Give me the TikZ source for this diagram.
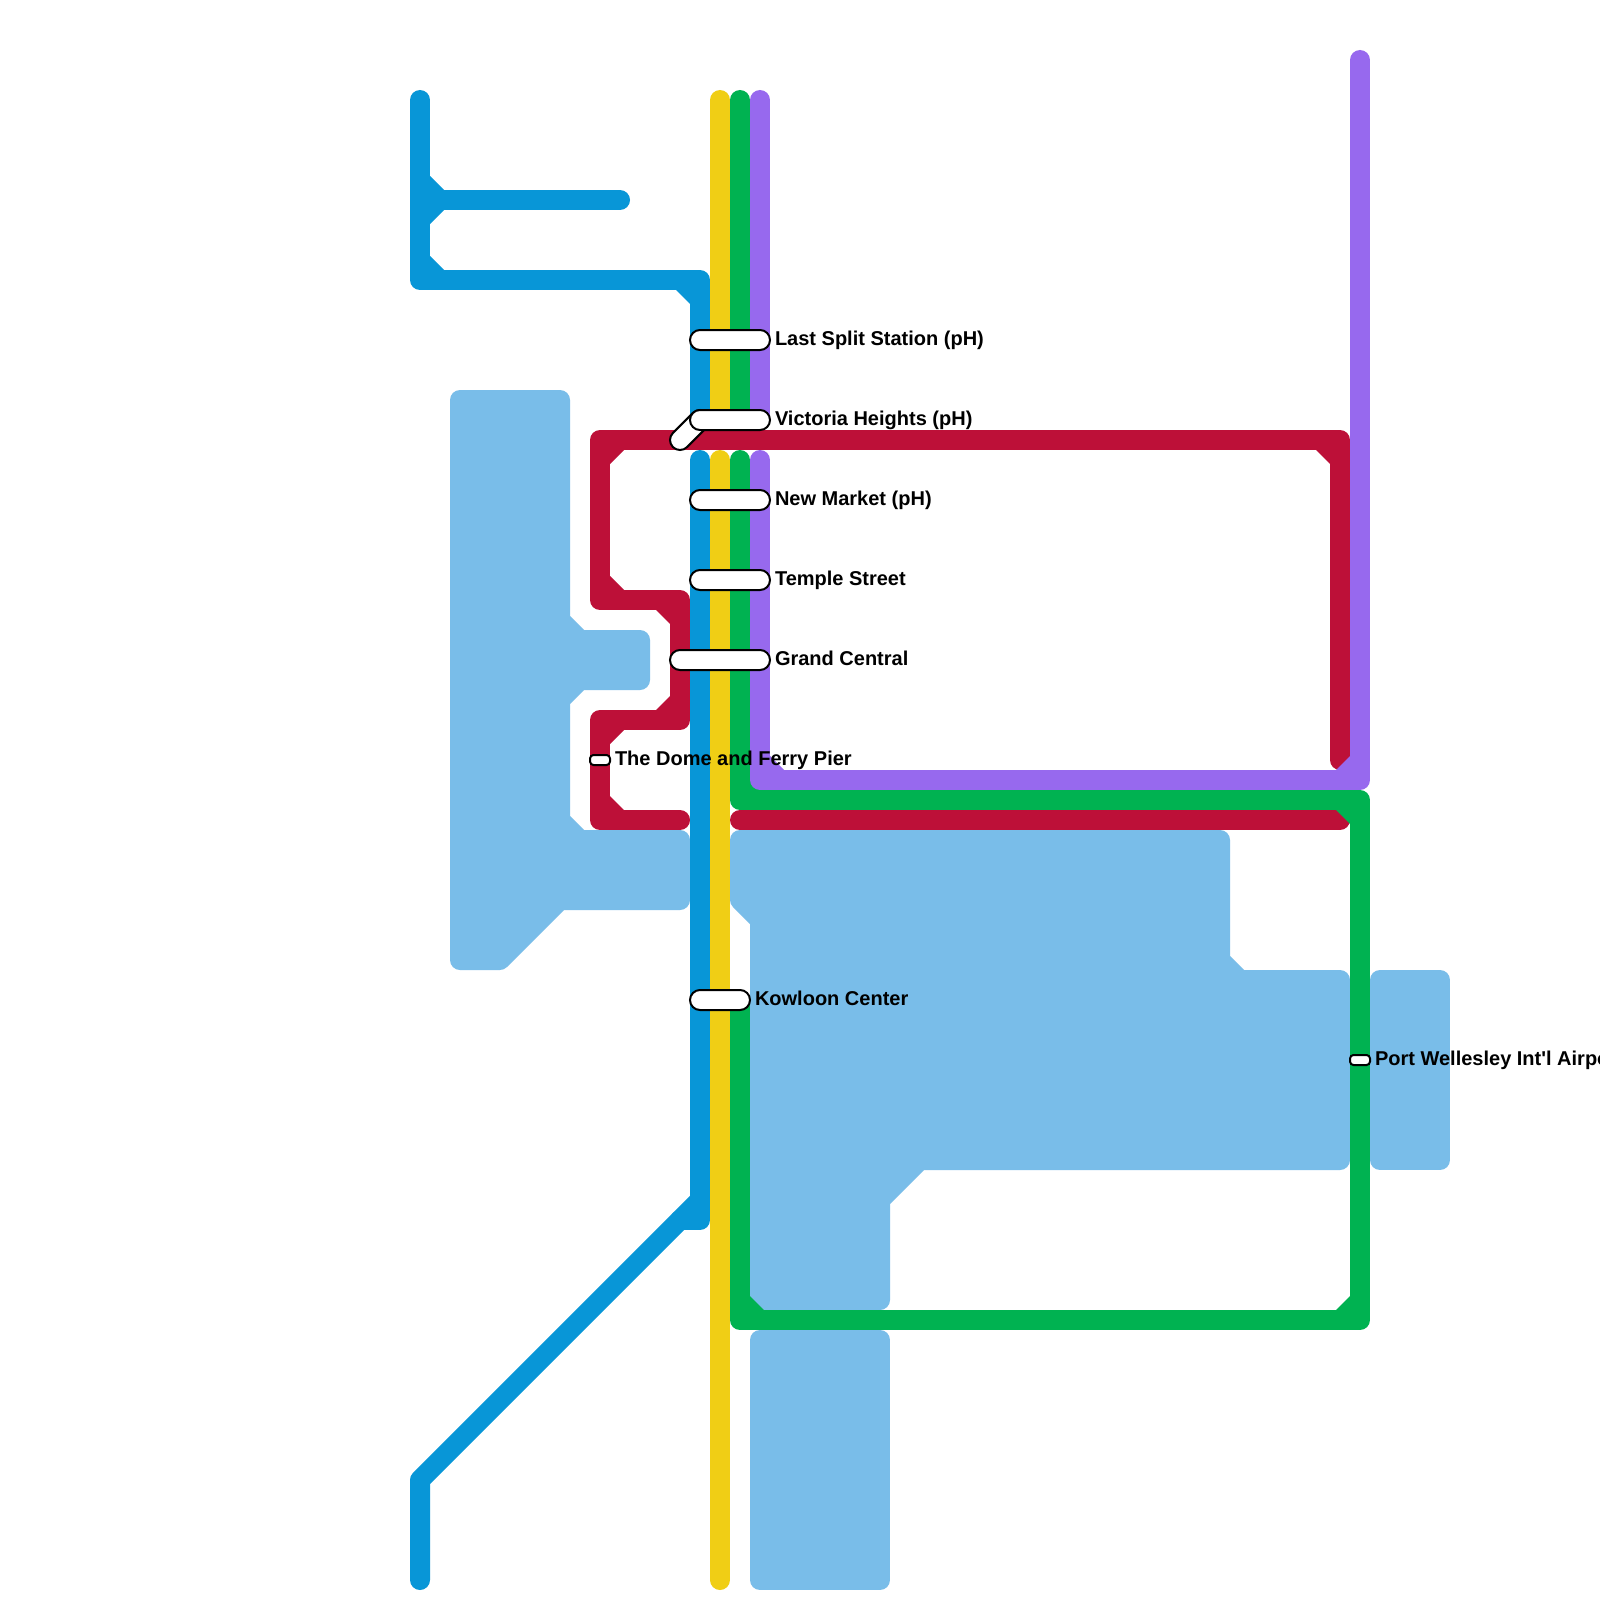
\documentclass[tikz,border=0pt]{standalone}
\usepackage{fontspec}
\setmainfont{Liberation Sans}[Ligatures=TeXOff]
\definecolor{water}{HTML}{79BDE9}
\definecolor{lblue}{HTML}{0896D7}
\definecolor{lyellow}{HTML}{F0CE15}
\definecolor{lgreen}{HTML}{00B251}
\definecolor{lpurple}{HTML}{9769EE}
\definecolor{lred}{HTML}{BD1038}
\newcommand{\cham}[5]{\fill[#1] ({#2+14*(#4)},#3) -- ({#2+14*(#4)},{#3-2*(#5)}) -- ({#2-2*(#4)},{#3-2*(#5)}) -- ({#2-2*(#4)},{#3+14*(#5)}) -- (#2,{#3+14*(#5)}) -- cycle;}
\tikzset{
  waterarea/.style={fill=water,draw=water,line width=20pt,line join=round},
  metro/.style={line width=20pt,line cap=round,line join=round},
  stationpill/.style={draw=black,fill=white,line width=2pt,rounded corners=10pt,inner sep=0pt,outer sep=0pt,minimum height=20pt},
  stationsmall/.style={draw=black,fill=white,line width=2pt,rounded corners=3.5pt,inner sep=0pt,outer sep=0pt,minimum height=10pt,minimum width=20pt},
  stationlabel/.style={anchor=base west,inner sep=0pt,outer sep=0pt,font=\fontsize{20}{24}\selectfont\bfseries,text=black}
}
\begin{document}
\begin{tikzpicture}[x=1pt,y=-1pt]
\useasboundingbox (0,0) rectangle (1600,1600);
\fill[white] (0,0) rectangle (1600,1600);
% water
\path[waterarea] (460,400) -- (560,400) -- (560,620.14) -- (579.86,640) -- (640,640) -- (640,680) -- (579.86,680) -- (560,699.86) -- (560,820.14) -- (579.86,840) -- (680,840) -- (680,900) -- (559.86,900) -- (499.86,960) -- (460,960) -- cycle;
\path[waterarea] (740,840) -- (1220,840) -- (1220,960.14) -- (1239.86,980) -- (1340,980) -- (1340,1160) -- (919.86,1160) -- (880,1199.86) -- (880,1300) -- (760,1300) -- (760,919.86) -- (740,899.86) -- cycle;
\path[waterarea] (1380,980) rectangle (1440,1160);
\path[waterarea] (760,1340) rectangle (880,1580);
% red
\draw[metro,lred] (1340,760) -- (1340,440) -- (600,440) -- (600,600) -- (680,600) -- (680,720) -- (600,720) -- (600,820) -- (680,820);
\draw[metro,lred] (740,820) -- (1340,820);
\cham{lred}{610}{450}{1}{1}
\cham{lred}{1330}{450}{-1}{1}
\cham{lred}{610}{590}{1}{-1}
\cham{lred}{670}{610}{-1}{1}
\cham{lred}{670}{710}{-1}{-1}
\cham{lred}{610}{730}{1}{1}
\cham{lred}{610}{810}{1}{-1}
% blue
\draw[metro,lblue] (420,100) -- (420,280) -- (700,280) -- (700,420);
\draw[metro,lblue] (420,200) -- (620,200);
\draw[metro,lblue] (700,460) -- (700,1220) -- (680,1220);
\draw[metro,lblue] (700,1200) -- (420,1480) -- (420,1580);
\cham{lblue}{430}{190}{1}{-1}
\cham{lblue}{430}{210}{1}{1}
\cham{lblue}{430}{270}{1}{-1}
\cham{lblue}{690}{290}{-1}{1}
% yellow
\draw[metro,lyellow] (720,100) -- (720,420);
\draw[metro,lyellow] (720,460) -- (720,1580);
% green
\draw[metro,lgreen] (740,100) -- (740,420);
\draw[metro,lgreen] (740,460) -- (740,800) -- (1360,800) -- (1360,1320) -- (740,1320) -- (740,1000);
\cham{lgreen}{750}{1310}{1}{-1}
\cham{lgreen}{1350}{1310}{-1}{-1}
\cham{lgreen}{1350}{810}{-1}{1}
\cham{lgreen}{750}{790}{1}{-1}
% purple
\draw[metro,lpurple] (760,100) -- (760,420);
\draw[metro,lpurple] (760,460) -- (760,780) -- (1360,780) -- (1360,60);
\cham{lpurple}{770}{770}{1}{-1}
\cham{lpurple}{1350}{770}{-1}{-1}
% stations
\node[stationpill,minimum width=80pt] (lastsplit) at (730,340) {};
\node[stationpill,minimum width=48.3pt,rotate=45] (victoriadiag) at (690,430) {};
\node[stationpill,minimum width=80pt] (victoria) at (730,420) {};
\node[stationpill,minimum width=80pt] (newmarket) at (730,500) {};
\node[stationpill,minimum width=80pt] (temple) at (730,580) {};
\node[stationpill,minimum width=100pt] (grandcentral) at (720,660) {};
\node[stationsmall] (dome) at (600,760) {};
\node[stationpill,minimum width=60pt] (kowloon) at (720,1000) {};
\node[stationsmall] (airport) at (1360,1060) {};
% labels
\node[stationlabel] (l1) at (775,345) {Last Split Station (pH)};
\node[stationlabel] (l2) at (775,425) {Victoria Heights (pH)};
\node[stationlabel] (l3) at (775,505) {New Market (pH)};
\node[stationlabel] (l4) at (775,585) {Temple Street};
\node[stationlabel] (l5) at (775,665) {Grand Central};
\node[stationlabel] (l6) at (615,765) {The Dome and Ferry Pier};
\node[stationlabel] (l7) at (755,1005) {Kowloon Center};
\node[stationlabel] (l8) at (1375,1065) {Port Wellesley Int'l Airport};
\end{tikzpicture}
\end{document}
